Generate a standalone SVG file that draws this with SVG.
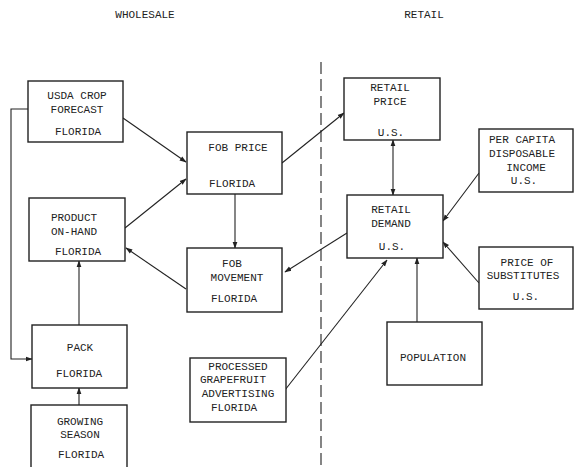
<svg xmlns="http://www.w3.org/2000/svg" width="574" height="467" viewBox="0 0 574 467">
<defs>
<style>
.box{fill:#fff;stroke:#222;stroke-width:1.4}
.t{font-family:"Liberation Mono","Courier New",monospace;font-size:11px;fill:#222;text-anchor:middle}
.c{fill:none;stroke:#222;stroke-width:1.1}
</style>
<marker id="ah" viewBox="0 0 10 10" refX="9" refY="5" markerWidth="7" markerHeight="7" orient="auto-start-reverse" markerUnits="userSpaceOnUse">
<path d="M0,1.5 L10,5 L0,8.5 Z" fill="#222"/>
</marker>
</defs>
<rect width="574" height="467" fill="#fff"/>
<g id="titles">
<text class="t" x="145" y="18">WHOLESALE</text>
<text class="t" x="424" y="18">RETAIL</text>
</g>
<line id="divider" x1="321" y1="62" x2="321" y2="467" stroke="#222" stroke-width="1.1" stroke-dasharray="12 5"/>
<g id="connectors">
<line class="c" x1="123" y1="118" x2="186" y2="162" marker-end="url(#ah)"/>
<line class="c" x1="125" y1="228" x2="186" y2="179" marker-end="url(#ah)"/>
<line class="c" x1="235" y1="194" x2="235" y2="248" marker-end="url(#ah)"/>
<line class="c" x1="186" y1="289" x2="126" y2="248" marker-end="url(#ah)"/>
<polyline class="c" points="28,109 11,109 11,359 32,359" marker-end="url(#ah)"/>
<line class="c" x1="79" y1="325" x2="79" y2="261" marker-end="url(#ah)"/>
<line class="c" x1="79" y1="405" x2="79" y2="388" marker-end="url(#ah)"/>
<line class="c" x1="282" y1="163" x2="344" y2="113" marker-end="url(#ah)"/>
<line class="c" x1="393" y1="140" x2="393" y2="195" marker-start="url(#ah)" marker-end="url(#ah)"/>
<line class="c" x1="479" y1="173" x2="443" y2="221" marker-end="url(#ah)"/>
<line class="c" x1="347" y1="233" x2="285" y2="272" marker-end="url(#ah)"/>
<line class="c" x1="479" y1="283" x2="443" y2="242" marker-end="url(#ah)"/>
<line class="c" x1="417" y1="322" x2="417" y2="258" marker-end="url(#ah)"/>
<line class="c" x1="285" y1="390" x2="387" y2="260" marker-end="url(#ah)"/>
</g>
<g id="usda">
<rect class="box" x="28" y="81" width="95" height="61"/>
<text class="t" x="77" y="99">USDA CROP</text>
<text class="t" x="77" y="113">FORECAST</text>
<text class="t" x="78" y="135">FLORIDA</text>
</g>
<g id="fob-price">
<rect class="box" x="187" y="132" width="95" height="62"/>
<text class="t" x="238" y="151">FOB PRICE</text>
<text class="t" x="232" y="187">FLORIDA</text>
</g>
<g id="product-on-hand">
<rect class="box" x="29" y="198" width="96" height="63"/>
<text class="t" x="74" y="221">PRODUCT</text>
<text class="t" x="74" y="235">ON-HAND</text>
<text class="t" x="78" y="255">FLORIDA</text>
</g>
<g id="fob-movement">
<rect class="box" x="187" y="248" width="95" height="64"/>
<text class="t" x="232" y="267">FOB</text>
<text class="t" x="237" y="281">MOVEMENT</text>
<text class="t" x="234" y="302">FLORIDA</text>
</g>
<g id="pack">
<rect class="box" x="32" y="325" width="95" height="63"/>
<text class="t" x="80" y="351">PACK</text>
<text class="t" x="79" y="377">FLORIDA</text>
</g>
<g id="growing-season">
<rect class="box" x="31" y="405" width="96" height="70"/>
<text class="t" x="80" y="425">GROWING</text>
<text class="t" x="80" y="438">SEASON</text>
<text class="t" x="81" y="458">FLORIDA</text>
</g>
<g id="processed">
<rect class="box" x="190" y="358" width="96" height="64"/>
<text class="t" x="238" y="370">PROCESSED</text>
<text class="t" x="233" y="383">GRAPEFRUIT</text>
<text class="t" x="238" y="397">ADVERTISING</text>
<text class="t" x="234" y="411">FLORIDA</text>
</g>
<g id="retail-price">
<rect class="box" x="344" y="78" width="96" height="62"/>
<text class="t" x="390" y="91">RETAIL</text>
<text class="t" x="390" y="105">PRICE</text>
<text class="t" x="391" y="136">U.S.</text>
</g>
<g id="per-capita">
<rect class="box" x="479" y="129" width="94" height="63"/>
<text class="t" x="522" y="143">PER CAPITA</text>
<text class="t" x="522" y="157">DISPOSABLE</text>
<text class="t" x="526" y="171">INCOME</text>
<text class="t" x="524" y="184">U.S.</text>
</g>
<g id="retail-demand">
<rect class="box" x="347" y="195" width="96" height="63"/>
<text class="t" x="391" y="213">RETAIL</text>
<text class="t" x="391" y="227">DEMAND</text>
<text class="t" x="392" y="250">U.S.</text>
</g>
<g id="price-substitutes">
<rect class="box" x="479" y="247" width="94" height="62"/>
<text class="t" x="527" y="266">PRICE OF</text>
<text class="t" x="523" y="279">SUBSTITUTES</text>
<text class="t" x="526" y="300">U.S.</text>
</g>
<g id="population">
<rect class="box" x="387" y="322" width="95" height="63"/>
<text class="t" x="433" y="361">POPULATION</text>
</g>
</svg>
